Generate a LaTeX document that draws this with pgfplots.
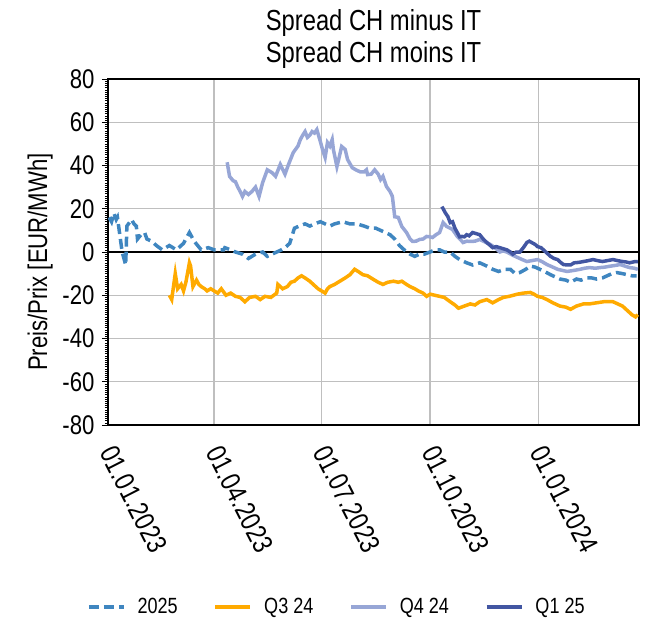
\documentclass[border=0pt]{standalone}
\usepackage{pgfplots}
\pgfplotsset{compat=1.18}
\usepackage{fontspec}
\setmainfont{Liberation Sans}[FakeStretch=0.82]
\definecolor{cA}{HTML}{3F86C0}
\definecolor{cB}{HTML}{FFAA00}
\definecolor{cC}{HTML}{97A6D6}
\definecolor{cD}{HTML}{4256A2}
\begin{document}
\begin{tikzpicture}
\useasboundingbox (-108bp,-198bp) rectangle (547bp,425bp);
\begin{axis}[
  at={(0,0)}, anchor=south west,
  width=531bp, height=346bp, scale only axis,
  xmin=0, xmax=450, ymin=-80, ymax=80,
  xtick={0,90,181,273,365},
  xticklabels={01.01.2023,01.04.2023,01.07.2023,01.10.2023,01.01.2024},
  ytick={-80,-60,-40,-20,0,20,40,60,80},
  yticklabels={-80,-60,-40,-20,0,20,40,60,80},
  minor y tick num=19,
  xtick pos=bottom, ytick pos=left,
  grid=major, major grid style={draw=black!25, line width=1.4bp},
  axis line style={line width=1.5bp, black},
  tick align=outside, major tick length=6bp, minor tick length=3bp,
  every tick/.style={black, line width=0.8bp},
  minor tick style={black, line width=0.5bp},
  xtick style={draw=none},
  yticklabel style={font=\fontsize{27bp}{31bp}\selectfont, xshift=-4bp},
  xticklabel style={font=\fontsize{28bp}{32bp}\selectfont, xshift=-2bp, yshift=-14bp, rotate=-63, anchor=west},
  ylabel={Preis/Prix [EUR/MWh]},
  every axis y label/.style={at={(axis description cs:-0.128,0.471)}, rotate=90, anchor=center, font=\fontsize{27bp}{31bp}\selectfont},
  title={Spread CH minus IT\\Spread CH moins IT},
  title style={at={(axis description cs:0.5,1.097)}, anchor=center, align=center, font=\fontsize{29bp}{32bp}\selectfont},
  legend columns=4,
  legend style={at={(axis description cs:0.431,-0.526)}, anchor=center, draw=none, fill=none,
    font=\fontsize{22bp}{26bp}\selectfont,
    /tikz/every odd column/.append style={column sep=10bp},
    /tikz/every even column/.append style={column sep=34bp}},
  legend image code/.code={\draw[#1] (0bp,0bp) -- (35bp,0bp);},
]
\addplot[black, line width=2bp, forget plot] coordinates {(0,0) (450,0)};
\addplot[cA, line width=3.5bp, dash pattern=on 10bp off 5bp] coordinates {
(1,16) (3,14) (5,18) (7,15) (8,16) (9,12) (12,0) (15,-6) (16,12) (20,15) (22,13) (24,12) (25,6) (28,8) (31,9) (33,6) (37,5) (41,3) (46,1) (52,3) (58,1) (64,4) (69,9) (73,5) (79,1) (85,2) (90,1) (98,1) (99,2) (104,1) (108,0) (114,-1) (119,-3) (125,-1) (131,0) (135,-2) (139,-1) (147,1) (150,2) (154,4) (158,11) (162,12) (167,13) (171,12) (175,13) (180,14) (184,13) (188,12) (192,13) (199,14) (205,13) (211,13) (217,12) (222,11) (227,11) (231,10) (235,9) (239,8) (243,6) (247,3) (251,1) (256,-1) (260,-2) (264,-1) (268,-1) (273,0) (277,1) (281,1) (285,0) (290,0) (294,-2) (298,-3.5) (304,-5) (309,-6) (315,-5) (321,-6.5) (326,-8) (331,-9) (336,-8) (341,-8) (345,-10) (349,-9.5) (354,-8) (358,-6.5) (362,-7) (366,-8) (370,-9) (375,-10.5) (379,-11.5) (383,-12.5) (388,-13) (392,-14) (397,-12.5) (401,-13) (406,-12) (410,-12) (414,-12.5) (419,-12) (423,-11) (427,-10) (431,-9.5) (436,-10) (440,-10.5) (444,-11) (448,-11)
};
\addlegendentry{2025}
\addplot[cB, line width=3.5bp] coordinates {
(52,-20) (54,-22) (56,-14) (57,-10) (59,-17) (62,-15) (64,-18) (66,-14) (67,-11) (69,-5) (70,-6.5) (72,-16) (75,-13) (77,-15) (79,-16) (82,-17) (84,-18) (87,-17) (90,-18) (93,-19) (96,-17) (100,-20) (104,-19) (108,-20.5) (112,-21) (116,-23) (120,-21) (125,-20.5) (129,-22) (133,-20.5) (138,-21) (143,-19) (144,-15) (148,-17) (152,-16) (155,-14) (158,-13.5) (161,-12) (164,-11) (167,-12) (171,-13.5) (174,-15) (178,-17) (181,-18) (184,-19) (186,-17) (188,-16) (192,-15) (195,-14) (198,-13) (201,-12) (205,-10.5) (209,-8) (212,-9) (216,-10.5) (220,-11) (225,-12.7) (229,-14) (233,-15) (237,-14) (242,-13.5) (246,-14) (249,-13.5) (253,-15) (256,-16) (260,-17) (263,-18) (267,-19) (270,-20.5) (273,-19.5) (277,-20) (281,-20.5) (285,-21) (290,-23) (294,-24.5) (297,-26) (302,-25) (307,-24) (311,-24.5) (315,-23) (318,-22.5) (321,-22) (326,-23.5) (331,-22) (335,-21) (340,-20.5) (347,-19.5) (352,-19) (358,-18.7) (361,-19.5) (364,-20.5) (368,-21) (372,-22) (377,-23.5) (383,-25) (388,-25.5) (392,-26.5) (397,-25) (403,-24) (408,-24) (414,-23.5) (420,-23) (428,-23) (432,-24) (436,-25) (440,-27) (444,-29) (447,-30) (449,-29)
};
\addlegendentry{Q3 24}
\addplot[cC, line width=3.5bp] coordinates {
(101,41.5) (103,35) (106,33) (108,32.5) (110,30) (112,28) (114,25.7) (116,28) (119,26.6) (122,28) (125,30) (128,25.7) (131,32) (135,38) (139,36.7) (142,35) (146,40.5) (150,36) (153,40.5) (157,46) (161,49) (163,52) (165,54) (167,55.7) (169,53) (171,54) (173,55.7) (175,55) (177,56.6) (180,51) (182,47) (184,43.7) (186,50.6) (188,49) (190,52) (191,47.4) (194,39.5) (196,44) (198,48.8) (201,47.4) (203,42.8) (207,39) (210,38) (214,37) (217,37) (219,38) (220,35.8) (223,36) (226,38) (229,36) (231,33.5) (233,35) (236,30.3) (239,28) (241,25.7) (243,16.3) (246,16) (249,11.8) (253,9) (256,6) (258,4.9) (261,5) (264,5.8) (267,6) (270,7.2) (273,7) (275,6.7) (278,8) (281,9) (284,13.6) (287,11.8) (290,11) (292,10.4) (296,7.2) (301,4.4) (304,5) (307,4.9) (311,5) (315,5.8) (320,4.5) (324,3.5) (328,2) (332,0) (335,0.5) (338,0) (343,-1.5) (347,-2.5) (351,-3.5) (355,-4.4) (359,-4) (364,-3.5) (368,-4.5) (372,-5.8) (377,-7) (381,-8) (385,-8.5) (389,-9) (395,-8.5) (400,-8) (404,-7.5) (408,-7.2) (413,-7.5) (417,-7.2) (421,-7) (425,-6.6) (430,-6.2) (434,-5.8) (438,-6.5) (442,-7.2) (446,-7.5) (449,-8)
};
\addlegendentry{Q4 24}
\addplot[cD, line width=3.5bp] coordinates {
(283,21) (285,19) (286,18) (288,16.4) (290,13.6) (292,14) (294,11) (296,9) (298,7) (300,7.2) (302,7) (304,8) (306,7.5) (309,9) (312,8.5) (315,8) (318,6) (321,4.4) (324,3) (326,2) (329,2.5) (332,2) (335,1.5) (338,1) (341,0) (343,-1) (346,0) (349,0) (352,2) (355,4.4) (357,5) (359,4.4) (362,3.5) (364,2.5) (367,2) (369,1) (372,-0.5) (375,-2) (378,-3) (381,-3.5) (384,-5) (386,-5.8) (389,-6) (392,-6) (395,-5) (399,-4.8) (403,-4.4) (407,-4) (411,-3.5) (415,-4) (419,-4.4) (423,-4) (428,-3.5) (432,-4) (436,-4.4) (439,-4.6) (442,-5) (446,-4.5) (449,-4.4)
};
\addlegendentry{Q1 25}
\end{axis}
\end{tikzpicture}
\end{document}
